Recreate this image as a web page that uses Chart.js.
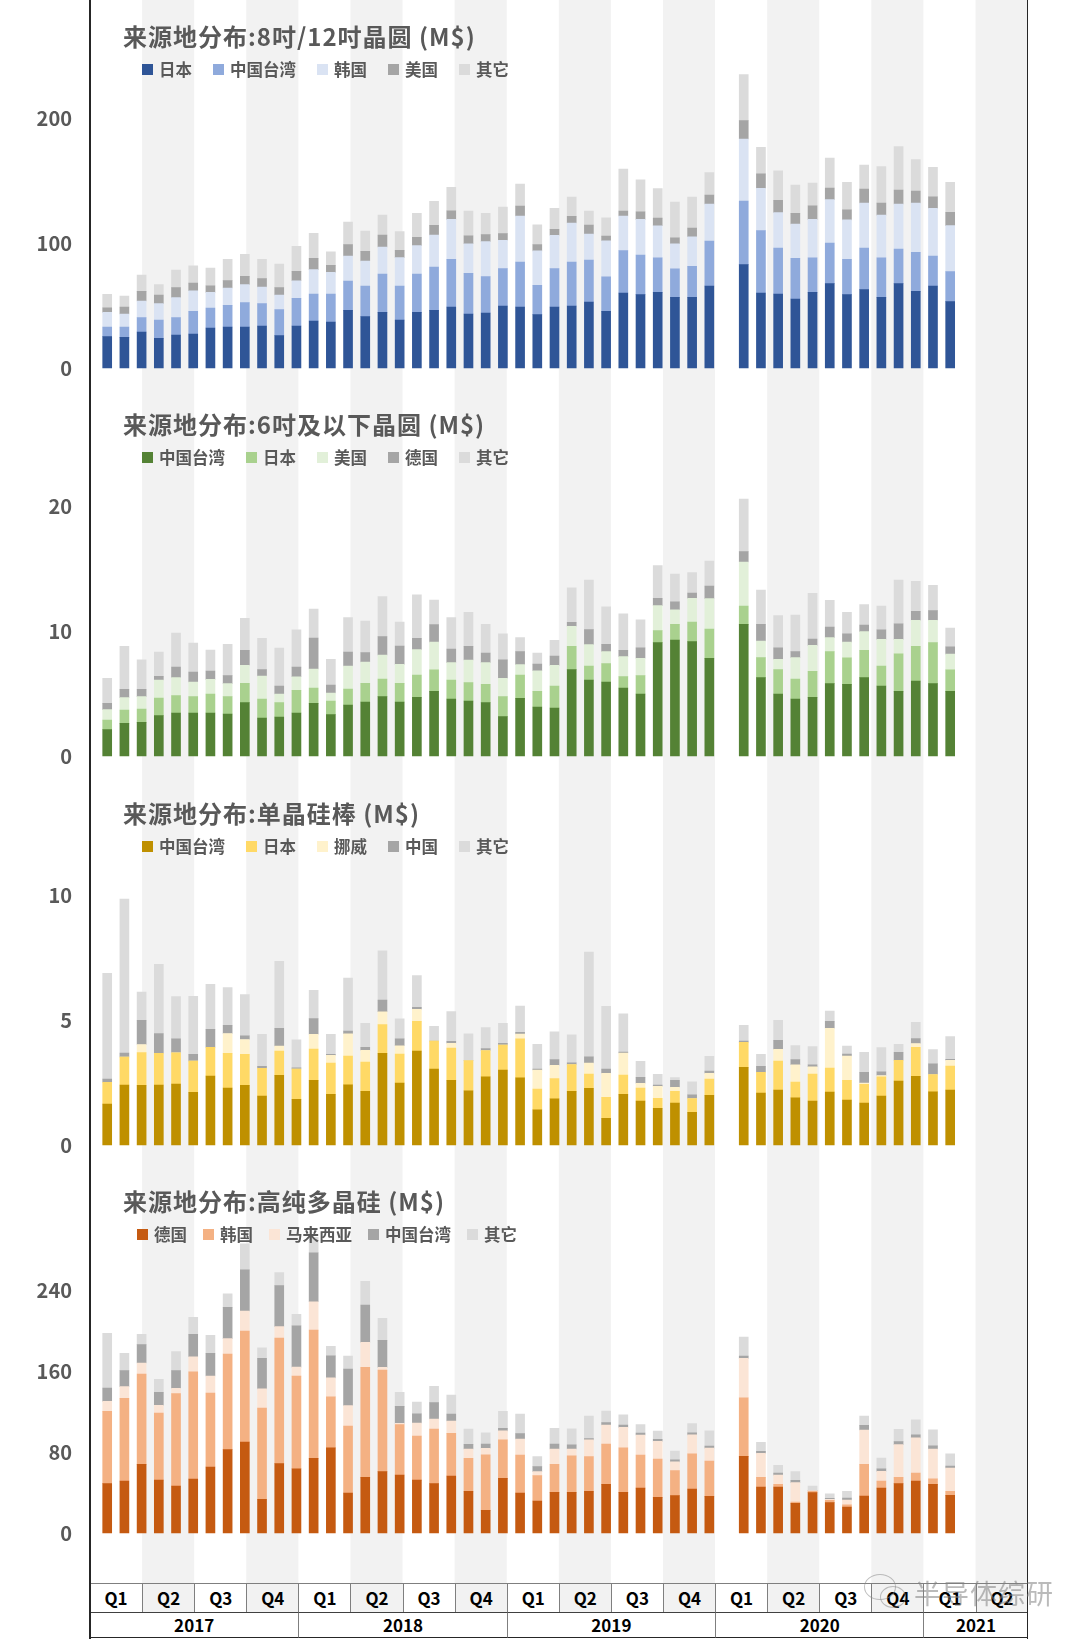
<!DOCTYPE html>
<html lang="zh-CN">
<head>
<meta charset="utf-8">
<title>来源地分布</title>
<script src="https://cdn.jsdelivr.net/npm/chart.js@4.4.1/dist/chart.umd.min.js"></script>
<style>
  html, body { margin: 0; padding: 0; background: #fff; }
  body { width: 1080px; height: 1639px; position: relative; overflow: hidden;
         font-family: "Noto Sans CJK SC", "Noto Sans", sans-serif; }
  .panel { position: absolute; left: 0; width: 1080px; }
  .panel canvas { position: absolute; left: 0; top: 0; }
  .title { position: absolute; left: 123px; top: 21px; font-size: 24px; font-weight: bold; color: #595959;
           letter-spacing: 1px; line-height: 30px; white-space: nowrap; z-index: 2; }
  .legend { position: absolute; top: 59px; display: flex; align-items: center; font-size: 16.5px;
            font-weight: bold; color: #595959; line-height: 20px; white-space: nowrap; z-index: 2; }
  .legend .item { display: flex; align-items: center; }
  .legend i { display: inline-block; width: 11px; height: 11px; margin-right: 6px; }
  .vline { position: absolute; top: 0; width: 1.5px; height: 1639px; background: #262626; z-index: 3; }
  #axis-table { position: absolute; left: 90px; top: 1583px; width: 937.6px; height: 55px; z-index: 2; }
  .cell { position: absolute; box-sizing: border-box; text-align: center; font-weight: bold;
          font-size: 17px; color: #000; }
  .qcell { top: 0; height: 29px; line-height: 27px; border-top: 1.5px solid #7f7f7f; border-left: 1px solid #7f7f7f; }
  .ycell { top: 29px; height: 26px; line-height: 24px; background: #fff; border-top: 1.5px solid #404040;
           border-left: 1px solid #7f7f7f; border-bottom: 1.5px solid #262626; }
  #mark { position: absolute; left: 914px; top: 1573px; font-size: 27px; color: rgba(130,130,130,0.55);
          letter-spacing: 1px; z-index: 4; white-space: nowrap; }
  .bubble { position: absolute; border: 1.5px solid rgba(140,140,140,0.55); border-radius: 50%; z-index: 4; }
</style>
</head>
<body>

<div class="vline" style="left:89px"></div>
<div class="vline" style="left:1026.8px"></div>

<div class="panel" style="top:0px;height:388px">
  <canvas id="chart-w12"></canvas>
  <div class="title">来源地分布:8吋/12吋晶圆 (M$)</div>
  <div class="legend" id="legend-w12" style="left:142px"></div>
</div>
<div class="panel" style="top:388px;height:389px">
  <canvas id="chart-w6"></canvas>
  <div class="title">来源地分布:6吋及以下晶圆 (M$)</div>
  <div class="legend" id="legend-w6" style="left:142px"></div>
</div>
<div class="panel" style="top:777px;height:388px">
  <canvas id="chart-ingot"></canvas>
  <div class="title">来源地分布:单晶硅棒 (M$)</div>
  <div class="legend" id="legend-ingot" style="left:142px"></div>
</div>
<div class="panel" style="top:1165px;height:418px">
  <canvas id="chart-poly"></canvas>
  <div class="title">来源地分布:高纯多晶硅 (M$)</div>
  <div class="legend" id="legend-poly" style="left:137px"></div>
</div>

<div id="axis-table"></div>

<div class="bubble" style="left:864px;top:1574px;width:30px;height:24px"></div>
<div class="bubble" style="left:880px;top:1586px;width:24px;height:20px"></div>
<div id="mark">半导体综研</div>

<script>
// ================= dados =================
const months = [
  "2017-01","2017-02","2017-03","2017-04","2017-05","2017-06","2017-07","2017-08","2017-09","2017-10","2017-11","2017-12",
  "2018-01","2018-02","2018-03","2018-04","2018-05","2018-06","2018-07","2018-08","2018-09","2018-10","2018-11","2018-12",
  "2019-01","2019-02","2019-03","2019-04","2019-05","2019-06","2019-07","2019-08","2019-09","2019-10","2019-11","2019-12",
  "2020-02","2020-03","2020-04","2020-05","2020-06","2020-07","2020-08","2020-09","2020-10","2020-11","2020-12",
  "2021-01","2021-02"
];
const years = ["2017", "2018", "2019", "2020", "2021"];
const quartersPerYear = [4, 4, 4, 4, 2];
const quarterNames = ["Q1", "Q2", "Q3", "Q4"];

// 8吋/12吋晶圆
const w12Japan  = [25.1,24.5,28.8,23.7,26.4,27.2,32.0,32.8,32.8,33.6,25.9,33.6,37.6,36.8,46.1,41.1,44.5,38.4,44.5,46.1,48.8,43.2,44.0,49.6,48.8,42.7,48.8,49.6,52.8,45.3,60.0,58.7,60.5,56.5,56.5,65.6,82.7,60.0,59.2,55.2,60.5,67.5,58.7,62.7,56.5,67.5,61.3,65.6,53.1];
const w12Taiwan = [7.7,8.3,11.5,14.7,13.9,18.1,16.0,17.3,19.5,17.9,20.8,22.1,21.6,22.4,23.5,24.5,30.7,27.2,30.7,34.7,38.1,32.5,29.1,29.9,36.0,23.5,30.7,35.2,33.6,27.7,33.9,31.7,27.7,22.9,24.8,36.0,50.9,49.9,36.8,32.5,27.7,32.5,28.3,33.3,31.7,27.7,31.2,24.0,24.0];
const w12Korea  = [11.7,10.4,13.3,13.1,16.0,16.5,12.5,13.9,14.4,13.3,11.7,14.1,19.5,17.3,20.0,20.0,21.6,22.7,22.7,25.6,32.0,23.7,28.0,22.7,36.8,27.5,26.7,31.2,20.8,28.8,27.7,28.5,25.6,20.0,23.7,29.6,49.6,33.9,28.3,27.5,30.7,34.7,31.5,36.0,34.1,36.0,39.5,38.1,36.8];
const w12US     = [3.7,5.6,7.7,6.9,8.0,6.1,5.3,5.9,6.7,6.7,5.9,7.5,9.1,5.6,9.1,7.7,9.6,5.9,6.7,7.7,6.9,6.4,5.6,5.3,8.0,5.1,4.8,5.3,7.2,3.7,4.0,6.1,6.1,4.8,6.9,7.2,14.7,11.5,9.9,8.5,10.9,9.3,8.0,11.2,9.6,11.2,9.6,9.3,10.7];
const w12Other  = [10.7,8.8,13.1,8.3,14.1,13.9,14.1,17.1,17.6,15.5,18.9,20.0,20.0,10.9,18.1,16.3,16.0,14.9,19.2,19.2,18.7,19.7,17.1,21.3,17.6,15.7,16.8,15.5,11.2,14.7,33.6,25.6,23.7,28.5,24.8,17.9,36.8,21.3,23.5,22.7,18.1,24.0,22.1,19.2,29.3,34.7,25.1,23.5,24.0];

// 6吋及以下晶圆
const w6Taiwan  = [2.11,2.61,2.69,3.23,3.44,3.44,3.44,3.36,4.27,3.04,3.12,3.44,4.21,3.31,4.08,4.32,4.75,4.32,4.69,5.17,4.56,4.4,4.27,3.15,4.61,3.92,3.84,6.91,6.08,5.92,5.44,4.96,9.07,9.28,9.15,7.81,10.53,6.27,4.96,4.56,4.69,5.79,5.73,6.27,5.6,5.17,6.0,5.79,5.17];
const w6Japan   = [0.77,1.07,1.07,1.41,1.39,1.31,1.52,1.39,1.55,1.52,1.15,1.81,1.23,1.09,1.28,1.49,1.41,1.49,1.79,1.73,1.52,1.47,1.47,1.6,1.87,1.25,1.76,1.87,1.12,1.47,0.91,1.47,0.96,1.25,1.57,2.35,1.47,1.6,1.95,1.6,2.08,2.56,2.13,2.19,1.6,3.01,2.77,3.28,1.73];
const w6US      = [0.83,0.99,0.99,1.44,1.44,1.17,1.17,1.04,1.44,1.84,0.69,1.09,1.52,0.64,1.84,1.71,1.92,1.52,2.03,2.21,1.39,1.81,1.73,1.47,0.83,1.65,1.65,1.6,1.71,0.96,1.6,1.39,2.0,1.17,1.89,2.43,3.52,1.33,0.83,1.71,2.08,1.12,1.25,1.49,2.13,1.15,2.08,1.79,1.25];
const w6Germany = [0.51,0.67,0.59,0.29,0.85,0.8,0.67,0.64,1.2,0.51,0.64,0.77,2.48,0.64,1.12,0.75,1.47,1.47,0.91,1.41,1.09,1.09,0.77,1.47,1.04,0.53,0.75,0.32,1.2,0.59,0.51,0.83,0.59,0.64,0.43,1.01,0.83,1.33,0.91,0.48,0.51,0.85,0.67,0.53,0.77,1.25,0.72,0.77,0.59];
const w6Other   = [2.0,3.44,2.35,1.95,2.72,2.32,1.68,2.51,2.56,2.51,3.04,2.99,2.32,2.05,2.75,2.53,3.2,1.92,3.47,1.95,2.51,2.72,2.29,2.08,1.12,0.88,1.25,2.75,3.97,2.99,2.91,2.24,2.61,2.21,1.63,2.0,4.21,2.75,2.59,2.93,3.65,2.13,1.71,1.63,1.89,3.49,2.4,2.03,1.49];

// 单晶硅棒
const ingotTaiwan = [1.64,2.4,2.39,2.4,2.44,2.11,2.76,2.28,2.39,1.96,2.79,1.83,2.59,2.03,2.41,2.15,3.67,2.48,3.76,3.04,2.59,2.17,2.73,3.0,2.69,1.41,1.85,2.15,2.27,1.07,2.03,1.76,1.47,1.68,1.31,1.99,3.11,2.08,2.2,1.89,1.76,2.12,1.8,1.68,1.96,2.56,2.75,2.13,2.2];
const ingotJapan  = [0.87,1.12,1.31,1.27,1.25,1.25,1.15,1.39,1.24,1.11,0.97,1.21,1.25,1.25,1.15,1.17,1.15,1.16,1.19,1.12,1.29,1.21,1.05,1.0,1.56,0.83,0.81,1.07,0.57,0.84,0.77,0.52,0.4,0.47,0.55,0.65,1.0,0.83,1.16,0.63,1.08,0.96,0.79,0.75,0.77,0.83,1.16,0.69,0.96];
const ingotNorway = [0,0,0.32,0,0,0,0,0.79,0.59,0,0.2,0,0.59,0.31,0.89,0.47,0.51,0.33,0.48,0,0.19,0,0,0,0.19,0.76,0.53,0,0.44,0.96,0.88,0.19,0.48,0.16,0,0.23,0,0,0.47,0.69,0.29,1.59,0.97,0.05,0.05,0,0.15,0,0.23];
const ingotChina  = [0.13,0.16,0.97,0.79,0.56,0.27,0.72,0.33,0.15,0.08,0.71,0.05,0.63,0.04,0.11,0.12,0.47,0.28,0.08,0,0.08,0,0.08,0.07,0.07,0.04,0.23,0.07,0.25,0.17,0.04,0.24,0.05,0.28,0.15,0.09,0.05,0.24,0.36,0.21,0.08,0.28,0.08,0.43,0.15,0.32,0.2,0.43,0.04];
const ingotOther  = [4.23,6.16,1.13,2.77,1.69,2.32,1.8,1.51,1.65,1.28,2.68,1.12,1.13,0.8,2.12,0.96,1.97,0.8,1.27,0.59,1.19,1.07,0.84,0.8,1.05,0.99,1.11,1.12,4.19,2.51,1.53,0.64,0.43,0.11,0.52,0.59,0.63,0.48,0.8,0.56,0.73,0.41,0.32,0.8,0.97,0.32,0.65,0.57,0.91];

// 高纯多晶硅
const polyGermany  = [48.7,51.4,67.8,52.3,46.4,53.3,65.2,82.3,89.9,33.3,68.5,63.5,73.7,84.0,39.5,55.0,60.6,57.3,52.3,48.7,56.3,41.2,22.4,54.0,39.5,31.6,40.2,40.2,41.2,48.1,40.2,44.4,35.2,36.9,43.5,36.2,75.7,45.4,45.4,29.3,39.8,30.0,25.7,36.5,44.4,48.7,51.4,48.1,37.2];
const polyKorea    = [71.4,81.6,89.2,66.2,91.2,106.0,73.1,94.5,109.6,90.2,124.1,91.5,126.7,50.4,66.2,108.6,100.4,49.7,43.5,54.0,42.1,32.6,54.7,37.9,37.5,25.0,27.7,35.9,34.2,39.8,43.8,32.6,37.9,24.7,34.6,34.9,57.9,9.5,2.6,1.3,1.3,2.3,2.0,31.3,6.9,6.3,7.9,5.3,4.0];
const polyMalaysia = [9.9,11.5,10.9,7.6,5.3,14.8,16.8,15.1,19.8,18.8,11.2,8.9,28.0,18.8,20.1,24.7,2.6,1.3,12.8,9.9,12.2,9.2,6.6,8.9,15.8,4.0,15.1,6.9,16.5,18.8,20.4,19.8,17.4,8.6,18.8,12.8,38.8,23.7,9.2,19.1,0.7,1.0,4.9,33.9,9.5,32.3,34.6,29.6,23.0];
const polyTaiwan   = [13.2,15.8,18.1,12.8,17.4,22.1,22.4,30.9,40.5,30.3,40.5,40.8,48.4,21.7,36.2,36.9,26.7,16.8,9.2,16.1,6.9,4.6,4.0,2.6,5.3,4.9,4.9,4.0,1.3,2.3,2.3,2.0,2.0,2.0,2.0,2.0,2.3,2.0,2.0,2.3,0,1.0,2.0,4.6,2.6,3.0,3.0,3.0,2.0];
const polyOther    = [54.0,17.1,10.2,12.8,18.8,16.8,17.8,13.5,25.7,10.2,12.8,11.2,15.1,9.5,12.8,23.4,21.7,13.8,11.5,16.1,18.8,15.1,11.2,16.8,19.4,9.9,15.5,15.8,22.4,11.5,9.9,8.2,8.2,8.6,9.2,15.1,18.8,8.9,7.6,8.6,4.6,4.3,6.6,9.2,10.5,12.2,14.8,15.8,11.9];

// tick labels
const w12Ticks = [0, 100, 200];
const w6Ticks = [0, 10, 20];
const ingotTicks = [0, 5, 10];
const polyTicks = [0, 80, 160, 240];

// ================= eixo x =================
const quarterLabels = [];
years.forEach((y, i) => {
  for (let q = 0; q < quartersPerYear[i]; q++) quarterLabels.push(quarterNames[q]);
});

function monthX(label) {
  const [y, m] = label.split("-").map(Number);
  return (y - 2017) * 12 + (m - 1);
}

// faixas cinza dos trimestres pares
const quarterBands = {
  id: "quarterBands",
  beforeDraw(chart) {
    const { ctx, chartArea } = chart;
    const w = (chartArea.right - chartArea.left) / quarterLabels.length;
    ctx.save();
    ctx.fillStyle = "#F2F2F2";
    quarterLabels.forEach((q, i) => {
      if (i % 2 === 1) ctx.fillRect(chartArea.left + i * w, 0, w, chart.height);
    });
    ctx.restore();
  }
};

// ================= gráficos =================
const ZERO_Y = 368;

function buildChart(id, series, tickValues, pxPerUnit) {
  const canvas = document.getElementById(id);
  const h = canvas.parentNode.clientHeight;
  return new Chart(canvas, {
    type: "bar",
    data: {
      datasets: series.map(s => ({
        label: s.label,
        data: s.values.map((v, i) => ({ x: monthX(months[i]), y: v })),
        backgroundColor: s.color,
        borderWidth: 0,
        barThickness: 9
      }))
    },
    options: {
      responsive: true,
      maintainAspectRatio: false,
      animation: false,
      layout: { padding: { left: 0, right: 52.4, top: 0, bottom: 0 } },
      plugins: { legend: { display: false }, title: { display: false } },
      scales: {
        x: { type: "linear", stacked: true, display: false, offset: false, min: -1, max: 53.5 },
        y: {
          stacked: true,
          min: -(h - ZERO_Y) / pxPerUnit,
          max: ZERO_Y / pxPerUnit,
          grid: { display: false, drawTicks: false },
          border: { display: false },
          ticks: {
            autoSkip: false,
            padding: 18,
            color: "#595959",
            font: { family: "'Noto Sans CJK SC', 'Noto Sans', sans-serif", size: 20, weight: "bold" }
          },
          afterBuildTicks: axis => { axis.ticks = tickValues.map(v => ({ value: v })); },
          afterFit: axis => {
            axis.width = 90;
            axis.paddingTop = 0;
            axis.paddingBottom = 0;
          }
        }
      }
    },
    plugins: [quarterBands]
  });
}

function buildLegend(id, series, gap) {
  const box = document.getElementById(id);
  series.forEach((s, i) => {
    const item = document.createElement("span");
    item.className = "item";
    if (i > 0) item.style.marginLeft = gap + "px";
    item.innerHTML = `<i style="background:${s.color}"></i>${s.label}`;
    box.appendChild(item);
  });
}

const w12Series = [
  { label: "日本", values: w12Japan, color: "#2F5597" },
  { label: "中国台湾", values: w12Taiwan, color: "#8FAADC" },
  { label: "韩国", values: w12Korea, color: "#DAE3F3" },
  { label: "美国", values: w12US, color: "#A5A5A5" },
  { label: "其它", values: w12Other, color: "#DBDBDB" }
];
const w6Series = [
  { label: "中国台湾", values: w6Taiwan, color: "#548235" },
  { label: "日本", values: w6Japan, color: "#A9D18E" },
  { label: "美国", values: w6US, color: "#E2F0D9" },
  { label: "德国", values: w6Germany, color: "#A5A5A5" },
  { label: "其它", values: w6Other, color: "#DBDBDB" }
];
const ingotSeries = [
  { label: "中国台湾", values: ingotTaiwan, color: "#BF9000" },
  { label: "日本", values: ingotJapan, color: "#FFD966" },
  { label: "挪威", values: ingotNorway, color: "#FFF2CC" },
  { label: "中国", values: ingotChina, color: "#A5A5A5" },
  { label: "其它", values: ingotOther, color: "#DBDBDB" }
];
const polySeries = [
  { label: "德国", values: polyGermany, color: "#C55A11" },
  { label: "韩国", values: polyKorea, color: "#F4B183" },
  { label: "马来西亚", values: polyMalaysia, color: "#FBE5D6" },
  { label: "中国台湾", values: polyTaiwan, color: "#A5A5A5" },
  { label: "其它", values: polyOther, color: "#DBDBDB" }
];

buildChart("chart-w12", w12Series, w12Ticks, 1.25);
buildChart("chart-w6", w6Series, w6Ticks, 12.5);
buildChart("chart-ingot", ingotSeries, ingotTicks, 25);
buildChart("chart-poly", polySeries, polyTicks, 1.0125);

buildLegend("legend-w12", w12Series, 21);
buildLegend("legend-w6", w6Series, 21);
buildLegend("legend-ingot", ingotSeries, 21);
buildLegend("legend-poly", polySeries, 16);

// ================= tabela do eixo =================
function renderAxisTable() {
  const table = document.getElementById("axis-table");
  const w = 937.6 / quarterLabels.length;
  quarterLabels.forEach((q, i) => {
    const c = document.createElement("div");
    c.className = "cell qcell";
    c.style.left = (i * w) + "px";
    c.style.width = w + "px";
    if (i === 0) c.style.borderLeft = "none";
    if (i % 2 === 1) c.style.background = "#F2F2F2";
    c.textContent = q;
    table.appendChild(c);
  });
  let start = 0;
  years.forEach((y, i) => {
    const c = document.createElement("div");
    c.className = "cell ycell";
    c.style.left = (start * w) + "px";
    c.style.width = (quartersPerYear[i] * w) + "px";
    if (i === 0) c.style.borderLeft = "none";
    c.textContent = y;
    table.appendChild(c);
    start += quartersPerYear[i];
  });
}
renderAxisTable();
</script>
</body>
</html>
